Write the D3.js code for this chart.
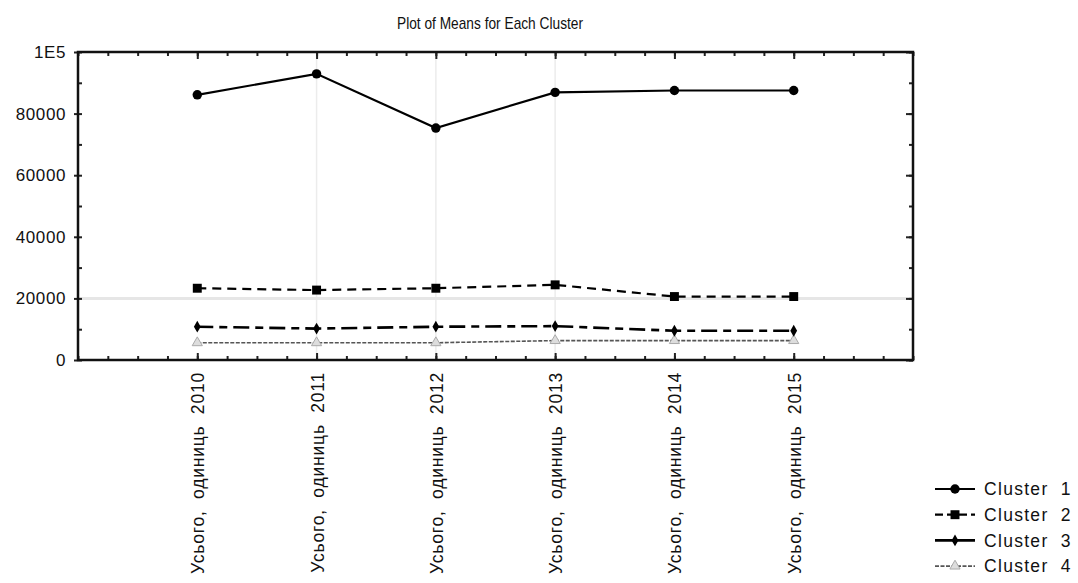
<!DOCTYPE html>
<html>
<head>
<meta charset="utf-8">
<script src="https://cdn.jsdelivr.net/npm/d3@7"></script>
<style>
  body { margin: 0; background: #fff; }
  text { font-family: "Liberation Sans", Arial, sans-serif; fill: #111; white-space: pre; }
</style>
</head>
<body>
<div id="chart"></div>
<script>
// Data
var years = ["2010", "2011", "2012", "2013", "2014", "2015"];
var categoryLabels = years.map(y => "Усього,  одиниць  " + y);
var cluster1 = [86100, 92900, 75300, 86900, 87500, 87500];
var cluster2 = [23300, 22700, 23300, 24400, 20600, 20600];
var cluster3 = [10800, 10200, 10800, 11000, 9500, 9500];
var cluster4 = [5600, 5600, 5600, 6300, 6300, 6300];
var seriesNames = ["Cluster  1", "Cluster  2", "Cluster  3", "Cluster  4"];
var yTicks = [0, 20000, 40000, 60000, 80000, 100000];

var svgWidth = 1078, svgHeight = 583;
var margin = { top: 52, right: 165, bottom: 223, left: 78 };
var width = svgWidth - margin.left - margin.right;
var height = svgHeight - margin.top - margin.bottom;

var svg = d3.select("#chart").append("svg")
    .attr("width", svgWidth)
    .attr("height", svgHeight);

var chartGroup = svg.append("g")
    .attr("transform", `translate(${margin.left}, ${margin.top})`);

// Scales: categories sit at 1..6 on a 0..7 axis
var xScale = d3.scaleLinear().domain([0, 7]).range([0, width]);
var yScale = d3.scaleLinear().domain([0, 100000]).range([height, 0]);

// Faint grid lines
[2, 3, 4].forEach(i => {
    chartGroup.append("line")
        .attr("x1", xScale(i)).attr("x2", xScale(i))
        .attr("y1", 0).attr("y2", height)
        .attr("stroke", "#ececec").attr("stroke-width", 1.5);
});
chartGroup.append("line")
    .attr("x1", 0).attr("x2", width)
    .attr("y1", yScale(20000)).attr("y2", yScale(20000))
    .attr("stroke", "#e6e6e6").attr("stroke-width", 3);

// Axes (ticks point inward)
var minorX = d3.range(0, 7.01, 0.25);
var majorX = d3.range(1, 7);
var minorY = d3.range(0, 100001, 10000);

var bottomAxis = d3.axisBottom(xScale).tickValues(minorX).tickSize(-4).tickFormat("");
var topAxis = d3.axisTop(xScale).tickValues(minorX).tickSize(-4).tickFormat("");
var leftAxis = d3.axisLeft(yScale).tickValues(minorY).tickSize(-4).tickFormat("");
var rightAxis = d3.axisRight(yScale).tickValues(minorY).tickSize(-4).tickFormat("");

var axes = [
    chartGroup.append("g").attr("transform", `translate(0, ${height})`).call(bottomAxis),
    chartGroup.append("g").call(topAxis),
    chartGroup.append("g").call(leftAxis),
    chartGroup.append("g").attr("transform", `translate(${width}, 0)`).call(rightAxis)
];
axes.forEach(a => {
    a.select(".domain").remove();
    a.selectAll("line").attr("stroke", "#222").attr("stroke-width", 2);
});

// Major ticks a bit longer
chartGroup.append("g").attr("transform", `translate(0, ${height})`)
    .call(d3.axisBottom(xScale).tickValues(majorX).tickSize(-7).tickFormat(""))
    .call(g => g.select(".domain").remove())
    .selectAll("line").attr("stroke", "#222").attr("stroke-width", 2);
chartGroup.append("g")
    .call(d3.axisTop(xScale).tickValues(majorX).tickSize(-7).tickFormat(""))
    .call(g => g.select(".domain").remove())
    .selectAll("line").attr("stroke", "#222").attr("stroke-width", 2);
chartGroup.append("g")
    .call(d3.axisLeft(yScale).tickValues(yTicks).tickSize(4).tickFormat(""))
    .call(g => g.select(".domain").remove())
    .selectAll("line").attr("stroke", "#222").attr("stroke-width", 2);
chartGroup.append("g").attr("transform", `translate(${width}, 0)`)
    .call(d3.axisRight(yScale).tickValues(yTicks).tickSize(-7).tickFormat(""))
    .call(g => g.select(".domain").remove())
    .selectAll("line").attr("stroke", "#222").attr("stroke-width", 2);

// Frame
chartGroup.append("rect")
    .attr("x", 0).attr("y", 0)
    .attr("width", width).attr("height", height)
    .attr("fill", "none").attr("stroke", "#111").attr("stroke-width", 2.5);

// Y tick labels
chartGroup.selectAll(".ylab")
    .data(yTicks)
    .enter().append("text")
    .attr("x", -12)
    .attr("y", d => yScale(d))
    .attr("dy", "0.35em")
    .attr("text-anchor", "end")
    .style("font-size", "17px")
    .style("letter-spacing", "0.6px")
    .text(d => d === 100000 ? "1E5" : d);

// X category labels (rotated)
chartGroup.selectAll(".xlab")
    .data(categoryLabels)
    .enter().append("text")
    .attr("transform", (d, i) => `translate(${xScale(i + 1) + 7}, ${height + 12}) rotate(-90)`)
    .attr("text-anchor", "end")
    .style("font-size", "17.5px")
    .style("letter-spacing", "0.8px")
    .text(d => d);

// Title
svg.append("text")
    .attr("x", 490).attr("y", 29)
    .attr("text-anchor", "middle")
    .attr("textLength", 186)
    .attr("lengthAdjust", "spacingAndGlyphs")
    .style("font-size", "17px")
    .text("Plot of Means for Each Cluster");

// Series
var seriesList = [
    { name: seriesNames[0], values: cluster1, dash: null, color: "#000", width: 2.2, marker: d3.symbolCircle, size: 70, fill: "#000" },
    { name: seriesNames[1], values: cluster2, dash: "9,6", color: "#000", width: 2.2, marker: d3.symbolSquare, size: 80, fill: "#000" },
    { name: seriesNames[2], values: cluster3, dash: "16,6,8,6", color: "#000", width: 2.6, marker: d3.symbolDiamond, size: 40, fill: "#000" },
    { name: seriesNames[3], values: cluster4, dash: "4,1.5", color: "#555", width: 1.6, marker: d3.symbolTriangle, size: 45, fill: "#ddd" }
];

var line = d3.line()
    .x((d, i) => xScale(i + 1))
    .y(d => yScale(d));

seriesList.slice().reverse().forEach(s => {
    chartGroup.append("path")
        .datum(s.values)
        .attr("d", line)
        .attr("fill", "none")
        .attr("stroke", s.color)
        .attr("stroke-width", s.width)
        .attr("stroke-dasharray", s.dash);

    chartGroup.selectAll(null)
        .data(s.values)
        .enter().append("path")
        .attr("transform", (d, i) => `translate(${xScale(i + 1)}, ${yScale(d)})`)
        .attr("d", d3.symbol().type(s.marker).size(s.size))
        .attr("fill", s.fill)
        .attr("stroke", s.marker === d3.symbolTriangle ? "#aaa" : "none")
        .attr("stroke-width", 1);
});

// Legend
var legend = svg.append("g").attr("transform", "translate(935, 489)");
seriesList.forEach((s, i) => {
    var row = legend.append("g").attr("transform", `translate(0, ${i * 25.7})`);
    row.append("line")
        .attr("x1", 0).attr("x2", 40)
        .attr("stroke", s.color)
        .attr("stroke-width", s.width)
        .attr("stroke-dasharray", i === 1 ? "8,4" : (i === 3 ? "4,1.5" : null));
    row.append("path")
        .attr("transform", "translate(20, 0)")
        .attr("d", d3.symbol().type(s.marker).size(s.size))
        .attr("fill", s.fill)
        .attr("stroke", s.marker === d3.symbolTriangle ? "#aaa" : "none");
    row.append("text")
        .attr("x", 49).attr("dy", "0.35em")
        .style("font-size", "17.5px")
        .style("letter-spacing", "1.3px")
        .text(s.name);
});
</script>
</body>
</html>
